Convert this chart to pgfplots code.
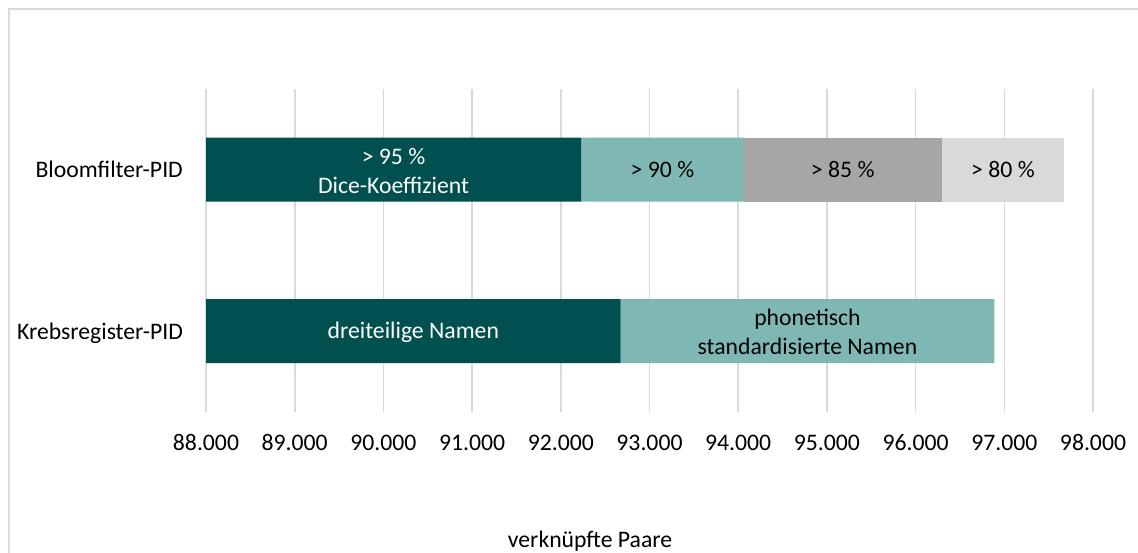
\documentclass[border=0pt]{standalone}
\usepackage{pgfplots}
\pgfplotsset{compat=1.18}
\usepackage{fontspec}
\setmainfont{Carlito}
\definecolor{dteal}{HTML}{00504F}
\definecolor{lteal}{HTML}{7FB8B3}
\definecolor{mgrey}{HTML}{A6A6A6}
\definecolor{lgrey}{HTML}{D9D9D9}
\definecolor{gridc}{HTML}{D9D9D9}
\newcommand{\cf}{\fontsize{23.7}{28}\selectfont}
\begin{document}
\begin{tikzpicture}[x=1pt,y=1pt]
\useasboundingbox (0,0) rectangle (1138,553);
\draw[gridc, line width=2pt] (9,-20) -- (9,544) -- (1160,544);
\begin{axis}[
  at={(206pt,141pt)}, anchor=south west,
  width=887pt, height=323pt, scale only axis,
  xbar stacked, bar width=64pt,
  xmin=88000, xmax=98000, ymin=-0.5, ymax=1.5,
  xtick={88000,89000,...,98000},
  ytick={0,1}, yticklabels={Krebsregister-PID,Bloomfilter-PID},
  xmajorgrids, major grid style={gridc, line width=1.6pt},
  axis line style={draw=none}, major tick length=0pt,
  scaled x ticks=false,
  /pgf/number format/.cd, 1000 sep={.}, fixed, assume math mode=true,
  /pgfplots/.cd,
  tick label style={font=\cf, inner sep=0pt},
  xticklabel style={anchor=base, yshift=-39pt},
  yticklabel style={anchor=base east, xshift=-23pt, yshift=-8pt},
  clip=true,
]
\addplot[fill=dteal, draw=none] coordinates {(92675,0) (92228,1)};
\addplot[fill=lteal, draw=none] coordinates {(4212,0) (1837,1)};
\addplot[fill=mgrey, draw=none] coordinates {(0,0) (2227,1)};
\addplot[fill=lgrey, draw=none] coordinates {(0,0) (1386,1)};
\coordinate (a1) at (axis cs:90114,1);
\coordinate (a2) at (axis cs:93146,1);
\coordinate (a3) at (axis cs:95178,1);
\coordinate (a4) at (axis cs:96985,1);
\coordinate (b1) at (axis cs:90337,0);
\coordinate (b2) at (axis cs:94781,0);
\end{axis}
\node[font=\cf, text=white, anchor=base, inner sep=0pt, yshift=5.7pt] at (a1) {> 95 \%};
\node[font=\cf, text=white, anchor=base, inner sep=0pt, yshift=-23.7pt] at (a1) {Dice-Koeffizient};
\node[font=\cf, anchor=base, inner sep=0pt, yshift=-7.5pt] at (a2) {> 90 \%};
\node[font=\cf, anchor=base, inner sep=0pt, yshift=-7.5pt] at (a3) {> 85 \%};
\node[font=\cf, anchor=base, inner sep=0pt, yshift=-7.5pt] at (a4) {> 80 \%};
\node[font=\cf, text=white, anchor=base, inner sep=0pt, yshift=-7.5pt] at (b1) {dreiteilige Namen};
\node[font=\cf, anchor=base, inner sep=0pt, yshift=6pt] at (b2) {phonetisch};
\node[font=\cf, anchor=base, inner sep=0pt, yshift=-23pt] at (b2) {standardisierte Namen};
\node[font=\cf, anchor=base, inner sep=0pt] at (590,5) {verknüpfte Paare};
\end{tikzpicture}
\end{document}
